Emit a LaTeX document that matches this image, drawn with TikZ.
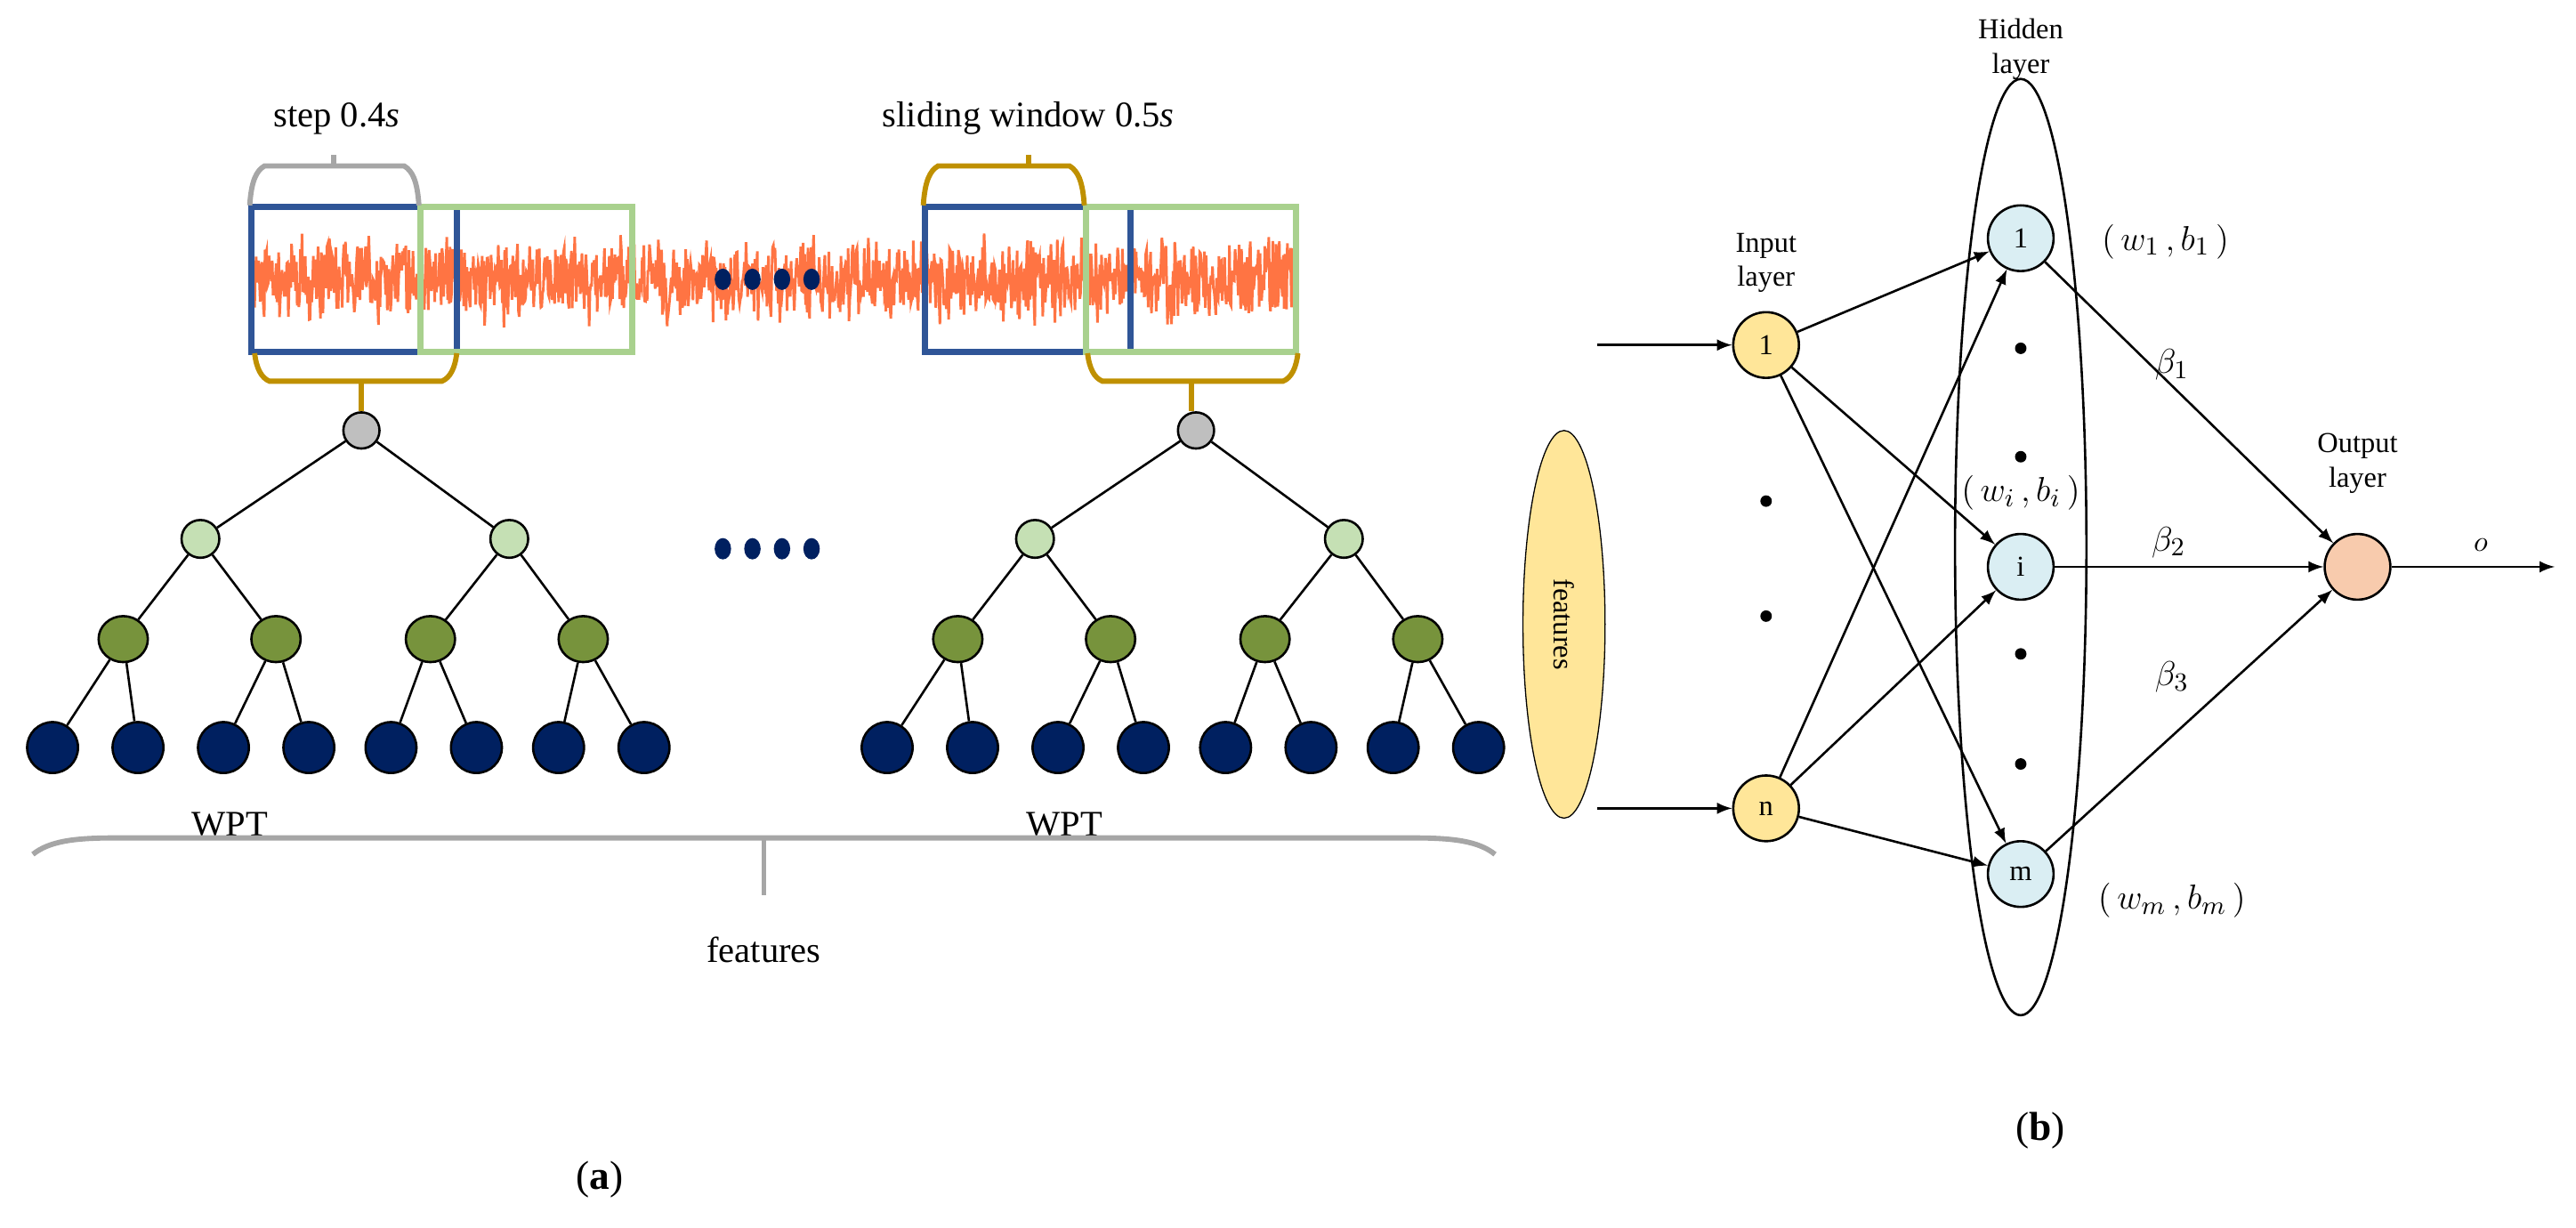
\documentclass[tikz,border=0pt]{standalone}
\usepackage{fontspec}
\setmainfont{Liberation Serif}
\usetikzlibrary{shapes.geometric}
\definecolor{winblue}{HTML}{2F5597}
\definecolor{wingreen}{HTML}{A9D18E}
\definecolor{sigorange}{HTML}{FF7443}
\definecolor{gold}{HTML}{BF9000}
\definecolor{bracegray}{HTML}{A6A6A6}
\definecolor{lvlgreen}{HTML}{C5E0B4}
\definecolor{olive}{HTML}{77933C}
\definecolor{navy}{HTML}{002060}
\definecolor{inyellow}{HTML}{FFE699}
\definecolor{hidblue}{HTML}{DAEEF3}
\definecolor{outpeach}{HTML}{F8CBAD}
\begin{document}
\begin{tikzpicture}[x=0.02cm,y=-0.02cm,>=latex,
	lbl/.style={font=\fontsize{12.5}{15}\selectfont},
	nlbl/.style={font=\fontsize{10}{12}\selectfont,align=center},
	mlbl/.style={font=\fontsize{12.5}{15}\selectfont},
	tr0/.style={circle,draw=black,thick,fill=gray!50,minimum size=0.44cm,inner sep=0pt},
	tr1/.style={circle,draw=black,thick,fill=lvlgreen,minimum size=0.46cm,inner sep=0pt},
	tr2/.style={ellipse,draw=black,thick,fill=olive,minimum width=0.6cm,minimum height=0.56cm,inner sep=0pt},
	tr3/.style={circle,draw=black,thick,fill=navy,minimum size=0.62cm,inner sep=0pt},
	neu/.style={circle,draw=black,thick,minimum size=0.8cm,inner sep=0pt,font=\fontsize{10}{12}\selectfont},
	dot/.style={circle,fill=black,minimum size=0.14cm,inner sep=0pt},
	bdot/.style={ellipse,fill=navy,minimum width=0.2cm,minimum height=0.26cm,inner sep=0pt},
	brc/.style={line width=1.8pt}]
\useasboundingbox (0,0) rectangle (1568,747);
% signal
\pgfmathsetseed{7}
\draw[sigorange,line width=0.9pt] plot[domain=153:789,samples=1300] (\x,{170+30*rand*(0.4+0.6*abs(rand))});
\foreach \x [count=\k] in {440,458,476,494} \node[bdot] (sd\k) at (\x,170) {};
% windows
\draw[winblue,line width=2.2pt] (153,126) rectangle (278,214);
\draw[wingreen,line width=2.2pt] (256,126) rectangle (385,214);
\draw[winblue,line width=2.2pt] (563,126) rectangle (688,214);
\draw[wingreen,line width=2.2pt] (661,126) rectangle (789,214);
% braces
\draw[brc,bracegray] (152,125) .. controls (153,110) and (156,104) .. (161,101) -- (246,101) .. controls (251,104) and (254,110) .. (255,125);
\draw[brc,bracegray] (203,101) -- (203,94);
\node[lbl] (step) at (205,72) {step 0.4\textit{s}};
\draw[brc,gold] (562,125) .. controls (563,110) and (566,104) .. (571,101) -- (651,101) .. controls (656,104) and (659,110) .. (660,125);
\draw[brc,gold] (626,101) -- (626,94);
\node[lbl] (win) at (626,72) {sliding window 0.5\textit{s}};
\foreach \a/\b/\m in {155/278/220,662/790/725}{
  \draw[brc,gold] (\a,215) .. controls (\a+1,224) and (\a+4,230) .. (\a+9,232) -- (\b-9,232) .. controls (\b-4,230) and (\b-1,224) .. (\b,215);
  \draw[brc,gold] (\m,232) -- (\m,250);
}
% wavelet packet trees
\foreach \t in {0,1}{
  \pgfmathsetmacro{\o}{508*\t}
  \node[tr0] (r\t) at (220+\o,262) {};
  \foreach \x [count=\k] in {122,310} \node[tr1] (a\t\k) at (\x+\o,328) {};
  \foreach \x [count=\k] in {75,168,262,355} \node[tr2] (b\t\k) at (\x+\o,389) {};
  \foreach \x [count=\k] in {32,84,136,188,238,290,340,392} \node[tr3] (c\t\k) at (\x+\o,455) {};
  \foreach \k in {1,2} \draw[thick] (r\t) -- (a\t\k);
  \foreach \k/\p in {1/1,2/1,3/2,4/2} \draw[thick] (a\t\p) -- (b\t\k);
  \foreach \k/\p in {1/1,2/1,3/2,4/2,5/3,6/3,7/4,8/4} \draw[thick] (b\t\p) -- (c\t\k);
}
\foreach \x [count=\k] in {440,458,476,494} \node[bdot] (td\k) at (\x,334) {};
\node[lbl] (wpt1) at (140,502) {WPT};
\node[lbl] (wpt2) at (648,502) {WPT};
\draw[brc,bracegray] (20,520) .. controls (30,512) and (45,510) .. (70,510) -- (860,510) .. controls (885,510) and (900,512) .. (910,520);
\draw[brc,bracegray] (465,510) -- (465,545);
\node[lbl] (feat) at (465,578) {features};
\node[font=\fontsize{14}{16}\selectfont] (capa) at (365,718) {(\textbf{a})};
% network
\node[ellipse,draw=black,fill=inyellow,minimum width=1cm,minimum height=4.72cm] (fe) at (952,380) {};
\node[rotate=-90,font=\fontsize{10}{12}\selectfont] at (fe) {features};
\node[neu,fill=inyellow] (x1) at (1075,210) {1};
\node[neu,fill=inyellow] (xn) at (1075,492) {n};
\node[nlbl] (inl) at (1075,160) {Input\\layer};
\foreach \y [count=\k] in {305,375} \node[dot] (xd\k) at (1075,\y) {};
\node[ellipse,draw=black,thick,minimum width=1.6cm,minimum height=11.4cm] (hid) at (1230,333) {};
\node[nlbl] (hidl) at (1230,30) {Hidden\\layer};
\node[neu,fill=hidblue] (h1) at (1230,145) {1};
\node[neu,fill=hidblue] (hi) at (1230,345) {i};
\node[neu,fill=hidblue] (hm) at (1230,532) {m};
\foreach \y [count=\k] in {212,278,398,465} \node[dot] (hd\k) at (1230,\y) {};
\node[neu,fill=outpeach] (out) at (1435,345) {};
\node[nlbl] (outl) at (1435,282) {Output\\layer};
\coordinate (in1) at (972,210);
\coordinate (inn) at (972,492);
\coordinate (o) at (1555,345);
\draw[->,thick] (in1) -- (x1);
\draw[->,thick] (inn) -- (xn);
\foreach \s in {x1,xn} \foreach \d in {h1,hi,hm} \draw[->,thick] (\s) -- (\d);
\foreach \s in {h1,hi,hm} \draw[->,thick] (\s) -- (out);
\draw[->,thick] (out) -- (o);
\node[nlbl] (ol) at (1510,332) {$o$};
\node[mlbl] (wb1) at (1318,147) {$(\,w_{1}\,,b_{1}\,)$};
\node[mlbl] (wbi) at (1230,300) {$(\,w_{i}\,,b_{i}\,)$};
\node[mlbl] (wbm) at (1322,548) {$(\,w_{m}\,,b_{m}\,)$};
\node[mlbl] (be1) at (1322,222) {$\beta_{1}$};
\node[mlbl] (be2) at (1320,330) {$\beta_{2}$};
\node[mlbl] (be3) at (1322,412) {$\beta_{3}$};
\node[font=\fontsize{14}{16}\selectfont] (capb) at (1242,688) {(\textbf{b})};
\end{tikzpicture}
\end{document}
